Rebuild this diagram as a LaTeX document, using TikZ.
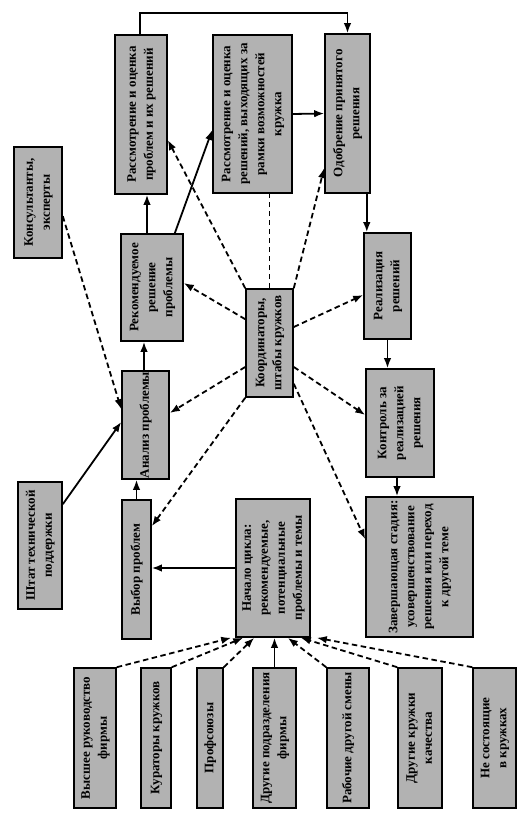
\documentclass[tikz,border=0pt]{standalone}
\usepackage{fontspec}
\setmainfont{Liberation Serif}
\usepackage{graphicx}
\usetikzlibrary{arrows.meta}

\tikzset{
  blok/.style={draw, line width=1.6pt, fill=black!30, inner sep=0pt,
    font=\bfseries\fontsize{13}{17}\selectfont},
  strel/.style={line width=1.8pt, -{Latex[length=10pt,width=7.5pt]}},
  pstrel/.style={strel, dash pattern=on 5.5pt off 3.5pt},
  plin/.style={line width=1.8pt, dash pattern=on 5.5pt off 3.5pt}
}
\newcommand{\vtext}[1]{\rotatebox{90}{\begin{tabular}{@{}c@{}}#1\end{tabular}}}

\begin{document}
\begin{tikzpicture}[x=1pt,y=1pt]
    \useasboundingbox (0,0) rectangle (519,822);

    % upper row
    \node[blok, minimum width=52pt, minimum height=159pt] (rassProb) at (141,707.5)
        {\vtext{Рассмотрение и оценка\\проблем и их решений}};
    \node[blok, minimum width=79pt, minimum height=158pt] (rassRam) at (252.5,708)
        {\vtext{Рассмотрение и оценка\\решений, выходящих за\\рамки возможностей\\кружка}};
    \node[blok, minimum width=45pt, minimum height=159pt] (odobr) at (347.5,708.5)
        {\vtext{Одобрение принятого\\решения}};

    % left column
    \node[blok, minimum width=48pt, minimum height=111pt] (konsult) at (38,619.5)
        {\vtext{Консультанты,\\эксперты}};
    \node[blok, minimum width=62pt, minimum height=107pt] (rekom) at (152,534.5)
        {\vtext{Рекомендуемое\\решение\\проблемы}};
    \node[blok, minimum width=47pt, minimum height=108pt] (analiz) at (145.5,397)
        {\vtext{Анализ проблемы}};
    \node[blok, minimum width=29pt, minimum height=139pt] (vybor) at (136.5,252.5)
        {\vtext{Выбор проблем}};
    \node[blok, minimum width=44pt, minimum height=127pt] (shtat) at (40,276.5)
        {\vtext{Штат технической\\поддержки}};

    % centre and right column
    \node[blok, minimum width=47pt, minimum height=108pt] (koord) at (269.5,479)
        {\vtext{Координаторы,\\штабы кружков}};
    \node[blok, minimum width=47pt, minimum height=106pt] (realiz) at (387.5,536)
        {\vtext{Реализация\\решений}};
    \node[blok, minimum width=68pt, minimum height=108pt] (kontrol) at (400,399)
        {\vtext{Контроль за\\реализацией\\решения}};
    \node[blok, minimum width=107pt, minimum height=140pt] (zaversh) at (419.5,255)
        {\vtext{Завершающая стадия:\\усовершенствование\\решения или переход\\к другой теме}};
    \node[blok, minimum width=74pt, minimum height=138pt] (nachalo) at (273,254)
        {\vtext{Начало цикла:\\рекомендуемые,\\потенциальные\\проблемы и темы}};

    % sources of problems
    \node[blok, minimum width=42pt, minimum height=140pt] (vysshee) at (95,84)
        {\vtext{Высшее руководство\\фирмы}};
    \node[blok, minimum width=30pt, minimum height=140pt] (kurat) at (156,84)
        {\vtext{Кураторы кружков}};
    \node[blok, minimum width=26pt, minimum height=140pt] (profs) at (210,84)
        {\vtext{Профсоюзы}};
    \node[blok, minimum width=43pt, minimum height=140pt] (drPodr) at (274.5,84)
        {\vtext{Другие подразделения\\фирмы}};
    \node[blok, minimum width=42pt, minimum height=140pt] (rabochie) at (348,84)
        {\vtext{Рабочие другой смены}};
    \node[blok, minimum width=44pt, minimum height=140pt] (drKruzh) at (420,84)
        {\vtext{Другие кружки\\качества}};
    \node[blok, minimum width=43pt, minimum height=140pt] (neSost) at (494.5,84)
        {\vtext{Не состоящие\\в кружках}};

    % main cycle
    \draw[strel] ([xshift=-1pt]rassProb.north) -- ++(0,21) -| (odobr.north);
    \draw[strel] (rassRam.east) -- (odobr.west);
    \draw[strel] ([xshift=-4pt]odobr.south east) -- ([xshift=-4pt]odobr.south east |- realiz.north);
    \draw[strel] ([xshift=-5pt]rekom.north) -- ([xshift=-5pt]rekom.north |- rassProb.south);
    \draw[strel] ([xshift=-9pt]rekom.north east) -- ([yshift=-16pt]rassRam.west);
    \draw[strel] ([xshift=-1.5pt]analiz.north) -- ([xshift=-1.5pt]analiz.north |- rekom.south);
    \draw[strel] (vybor.north) -- (vybor.north |- analiz.south);
    \draw[strel] ([yshift=-23pt]shtat.north east) -- ([yshift=3pt]analiz.west);
    \draw[strel] (nachalo.west) -- (nachalo.west -| vybor.east);
    \draw[strel] (realiz.south) -- (realiz.south |- kontrol.north);
    \draw[strel] ([xshift=-3pt]kontrol.south) -- ([xshift=-3pt]kontrol.south |- zaversh.north);
    \draw[strel] (drPodr.north) -- (drPodr.north |- nachalo.south);

    % coordinators
    \draw[pstrel] ([yshift=-70pt]konsult.north east) -- ([yshift=-39pt]analiz.north west);
    \draw[pstrel] (koord.north west) -- ([yshift=-25.5pt]rassProb.east);
    \draw[plin] (koord.north) -- (koord.north |- rassRam.south);
    \draw[pstrel] (koord.north east) -- ([yshift=-54.5pt]odobr.west);
    \draw[pstrel] ([yshift=-31pt]koord.north west) -- ([yshift=4.5pt]rekom.east);
    \draw[pstrel] ([yshift=-24pt]koord.west) -- ([yshift=12pt]analiz.east);
    \draw[pstrel] (koord.south west) -- ([yshift=-27pt]vybor.north east);
    \draw[pstrel] ([yshift=16pt]koord.east) -- ([yshift=-9pt]realiz.west);
    \draw[pstrel] ([yshift=-24pt]koord.east) -- ([yshift=8pt]kontrol.west);
    \draw[pstrel] ([yshift=14pt]koord.south east) -- ([yshift=-43pt]zaversh.north west);

    % sources
    \draw[pstrel] (vysshee.north east) -- ([xshift=-4pt]nachalo.south west);
    \draw[pstrel] (kurat.north east) -- ([xshift=8pt]nachalo.south west);
    \draw[pstrel] (profs.north east) -- ([xshift=19pt]nachalo.south west);
    \draw[pstrel] (rabochie.north west) -- ([xshift=-23pt]nachalo.south east);
    \draw[pstrel] (drKruzh.north west) -- ([xshift=-10pt]nachalo.south east);
    \draw[pstrel] (neSost.north west) -- ([xshift=6pt]nachalo.south east);
\end{tikzpicture}
\end{document}
